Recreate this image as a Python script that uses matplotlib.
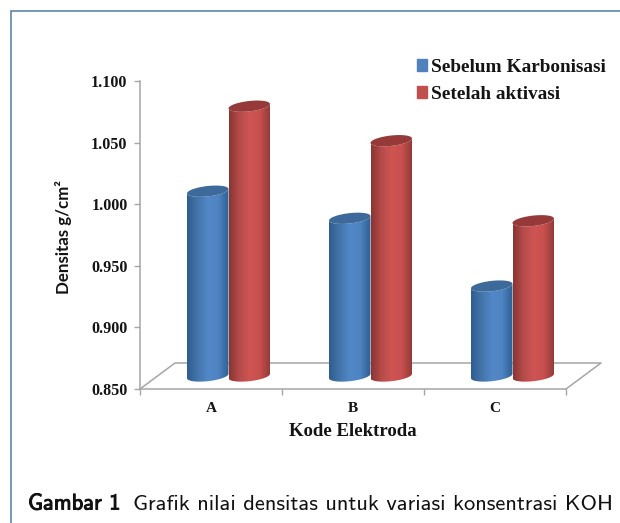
# density bars drawn as fake 3d cylinders on a flat axes
import matplotlib
matplotlib.use("Agg")
import matplotlib.pyplot as plt
import matplotlib.patheffects as pe
from matplotlib.colors import LinearSegmentedColormap
from matplotlib.patches import Patch, PathPatch, Rectangle
from matplotlib.path import Path
import numpy as np

categories = ["A", "B", "C"]
sebelum = [1.000, 0.978, 0.923]
setelah = [1.069, 1.041, 0.976]
yticks = [0.85, 0.90, 0.95, 1.00, 1.05, 1.10]

W, H = 620, 523
GRAY = "#a6a6a6"
INK = "#141414"

# size of one pixel in data units
PX = 1 / 142.0
PY = 0.05 / 61.6
BAR_W = 41.5 * PX
DEPTH_X = 35 * PX
DEPTH_Y = 26 * PY
ELL_B = 5.2 * PY
ELL_TILT = 2.2 * PY

fig = plt.figure(figsize=(W / 100, H / 100), dpi=100)
ax = fig.add_axes([140 / W, 1 - 389 / H, 426 / W, 308 / H])
ax.patch.set_alpha(0)

blue_map = LinearSegmentedColormap.from_list("b", ["#2f5d90", "#4475aa", "#5288c8", "#4f84c2", "#2f5f93"])
red_map = LinearSegmentedColormap.from_list("r", ["#8a3634", "#b64c4a", "#cf5553", "#c74f4d", "#8e3a38"])


def ellipse_pts(cx, y, half, t):
    return cx + half * np.cos(t), y + ELL_B * np.sin(t) + ELL_TILT * np.cos(t)


def cylinder(cx, value, cmap, top_color):
    half = BAR_W / 2
    # bars stand in the middle of the floor depth
    base = 0.85 + DEPTH_Y / 2
    top = value + DEPTH_Y / 2
    # body: top rim, then round the bottom
    t = np.linspace(np.pi, 2 * np.pi, 40)
    x_top, y_top = ellipse_pts(cx, top, half, t)
    x_bot, y_bot = ellipse_pts(cx, base, half, t)
    xs = np.r_[x_top, x_bot[::-1], x_top[0]]
    ys = np.r_[y_top, y_bot[::-1], y_top[0]]
    body = PathPatch(Path(np.c_[xs, ys]), fc="none", ec="none", zorder=cx + 3, transform=ax.transData)
    ax.add_patch(body)
    grad = np.linspace(0, 1, 64).reshape(1, -1)
    img = ax.imshow(grad, cmap=cmap, aspect="auto", zorder=cx + 3,
                    extent=[cx - half, cx + half, base - 10 * PY, top + 10 * PY])
    img.set_clip_path(body)
    # top cap
    t = np.linspace(0, 2 * np.pi, 60)
    x_cap, y_cap = ellipse_pts(cx, top, half, t)
    ax.fill(x_cap, y_cap, color=top_color, lw=0, zorder=cx + 3.1)


# floor
ax.plot([-0.5, -0.5 + DEPTH_X, 2.5 + DEPTH_X, 2.5], [0.85, 0.85 + DEPTH_Y, 0.85 + DEPTH_Y, 0.85],
        color=GRAY, lw=1.1, clip_on=False, zorder=1)

for i, cat in enumerate(categories):
    left = i + DEPTH_X / 2
    cylinder(left - BAR_W / 2, sebelum[i], blue_map, "#3d6a9a")
    cylinder(left + BAR_W / 2, setelah[i], red_map, "#953a39")

ax.set_xlim(-0.5, 2.5)
ax.set_ylim(0.85, 1.10)
for s in ["top", "right"]:
    ax.spines[s].set_visible(False)
for s in ["left", "bottom"]:
    ax.spines[s].set_color(GRAY)
    ax.spines[s].set_linewidth(1.1)

ax.set_yticks(yticks)
ax.set_yticklabels(["%.3f" % v for v in yticks], family="Liberation Serif", weight="bold",
                   fontsize=11.6, color=INK)
ax.tick_params(axis="y", length=4, width=1, color=GRAY, pad=5)
ax.set_xticks([-0.5, 0.5, 1.5, 2.5])
ax.set_xticklabels([])
ax.tick_params(axis="x", length=4, width=1, color=GRAY)
ax.set_xticks(range(3), categories, minor=True, family="Liberation Serif", weight="bold",
              fontsize=11, color=INK)
ax.tick_params(axis="x", which="minor", length=0, pad=9)

fig.text(353 / W, 1 - 432 / H, "Kode Elektroda", family="Liberation Serif", weight="bold",
         fontsize=13.5, color=INK, ha="center", va="center")
fig.text(64 / W, 1 - 237 / H, "Densitas g/cm²", family="Lato", weight="bold", fontsize=12.2,
         color=INK, rotation=90, ha="center", va="center")

handles = [Patch(color="#4f81bd"), Patch(color="#c0504d")]
fig.legend(handles, ["Sebelum Karbonisasi", "Setelah aktivasi"], loc="upper left",
           bbox_to_anchor=(413.5 / W, 1 - 55 / H), frameon=False, borderpad=0.2, borderaxespad=0,
           handlelength=0.5, handleheight=0.55, handletextpad=0.2, labelspacing=0.5,
           prop={"family": "Liberation Serif", "weight": "bold", "size": 13.9}, labelcolor=INK)

# outer frame of the figure box
fig.add_artist(Rectangle((10.5 / W, -0.02), 1.1, 1 - 10.5 / H + 0.02, transform=fig.transFigure,
                         fc="none", ec="#4f7ba7", lw=1.1))

fig.text(28 / W, 1 - 504 / H, "Gambar 1", family="cmss10", fontsize=16.2, color="#111111", va="center",
         path_effects=[pe.withStroke(linewidth=0.7, foreground="#111111")])
fig.text(133 / W, 1 - 504 / H, "Grafik nilai densitas untuk variasi konsentrasi KOH", family="cmss10",
         fontsize=16.2, color="#111111", va="center")

fig.savefig("out.png", dpi=100)
